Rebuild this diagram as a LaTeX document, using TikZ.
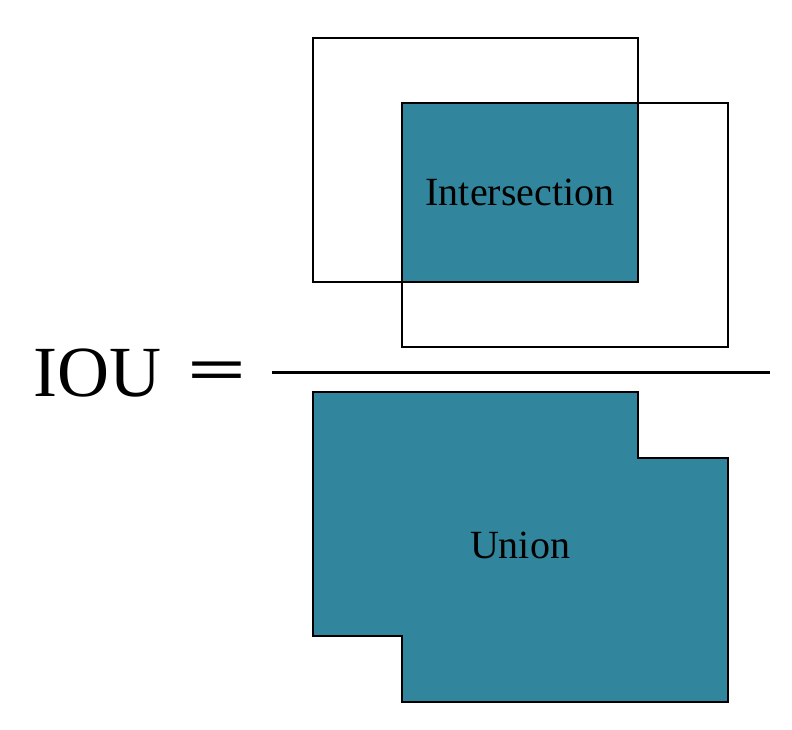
\documentclass[tikz,border=0pt]{standalone}
\usepackage{fontspec}
\setmainfont{Liberation Serif}
\definecolor{teal1}{HTML}{31859C}
\begin{document}
\begin{tikzpicture}[x=1pt,y=-1pt,
  box/.style={draw=black,line width=2.2pt},
  lbl/.style={inner sep=0pt,anchor=base,font=\fontsize{40}{48}\selectfont}]
\useasboundingbox (0,0) rectangle (792,730);
% intersection fill
\fill[teal1] (402,103) rectangle (638,282);
\draw[box] (313,38) rectangle (638,282);
\draw[box] (402,103) rectangle (728,347);
\node[lbl] (inter) at (520,206) {Intersection};
% fraction bar
\coordinate (barL) at (272,372);
\coordinate (barR) at (770,372);
\draw[line width=3pt] (barL) -- (barR);
% IOU =
\node[inner sep=0pt,anchor=base west,font=\fontsize{72}{80}\selectfont] (iou) at (33,396) {IOU};
\node[inner sep=0pt,anchor=base west,font=\fontsize{72}{80}\selectfont\bfseries] (eq) at (187,390.5) {\scalebox{1.45}[0.85]{=}};
% union
\draw[box,fill=teal1] (313,392) -- (638,392) -- (638,458) -- (728,458) -- (728,702) -- (402,702) -- (402,636) -- (313,636) -- cycle;
\node[lbl] (union) at (520,558) {Union};
\end{tikzpicture}
\end{document}
